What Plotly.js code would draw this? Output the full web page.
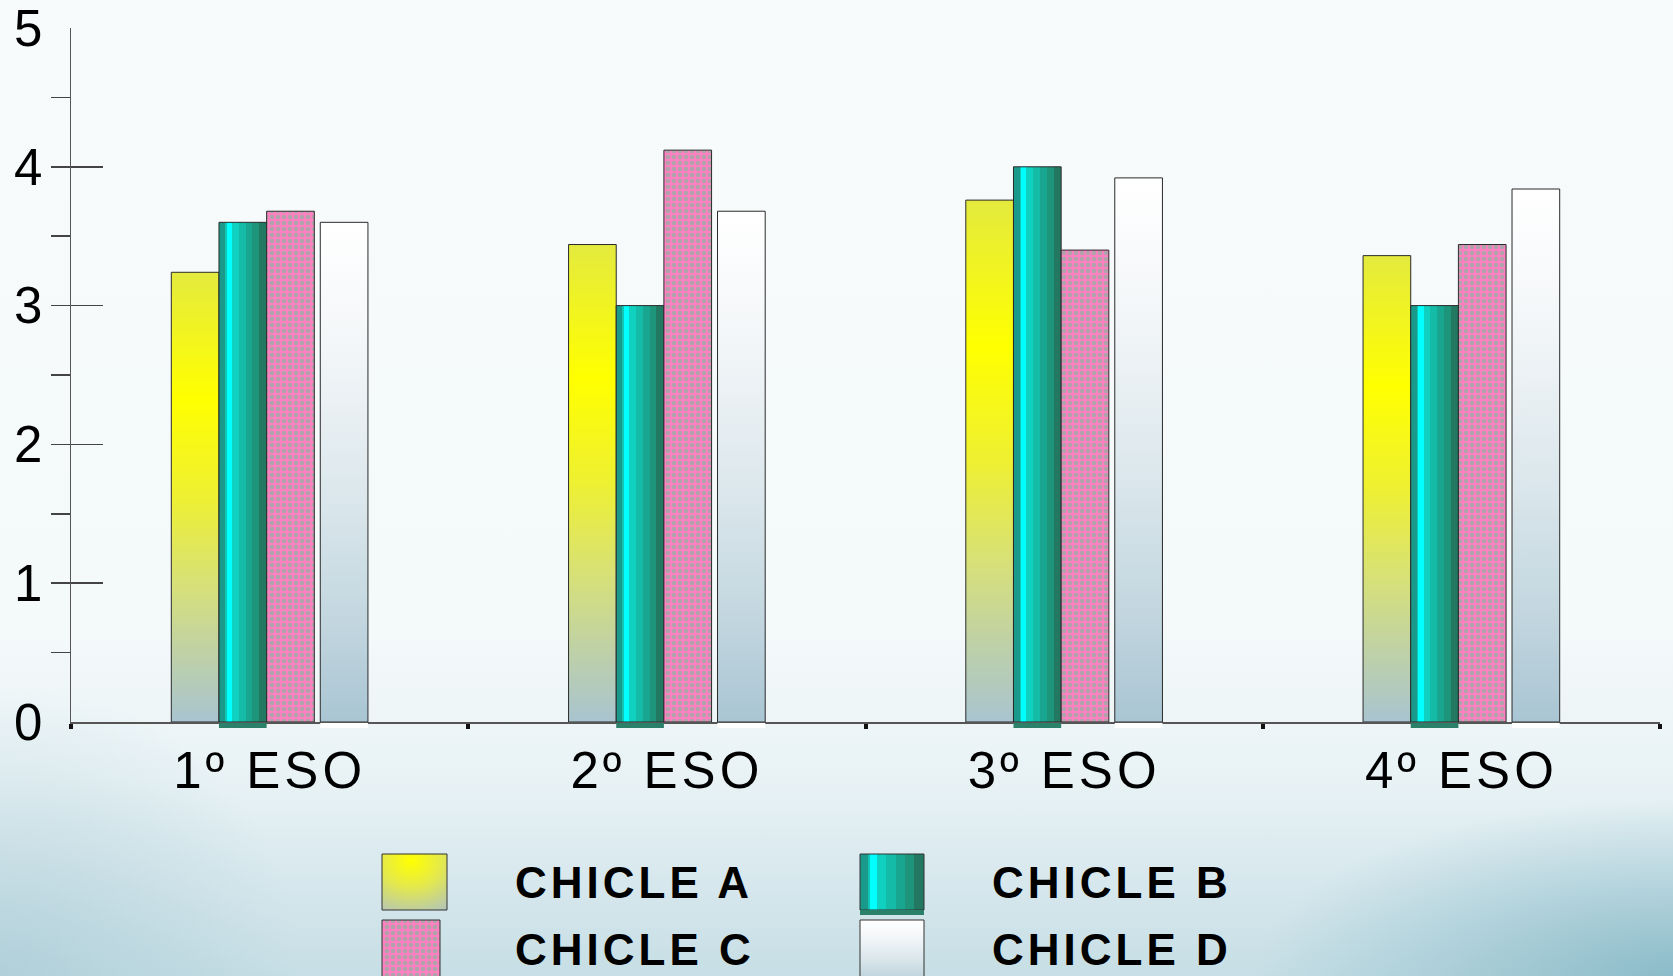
<!DOCTYPE html>
<html>
<head>
<meta charset="utf-8">
<script src="https://cdn.plot.ly/plotly-3.0.1.min.js"></script>
<style>
  html, body { margin: 0; padding: 0; width: 1673px; height: 976px; overflow: hidden; }
  body {
    background:
      radial-gradient(ellipse 25% 18% at 100% 100%, rgba(100,165,182,0.6), rgba(100,165,182,0) 100%),
      radial-gradient(ellipse 18% 30% at 0% 100%, rgba(150,190,203,0.45), rgba(150,190,203,0) 100%),
      linear-gradient(to bottom, #f8fbfc 0%, #f4f9fa 65%, #e8f2f5 80%, #d4e6ec 92%, #c6dee5 100%);
  }
  #chart { width: 1673px; height: 976px; }
</style>
</head>
<body>
<div id="chart"></div>
<script>
// Average rating of each chewing gum, by school year
const categories = ['1º ESO', '2º ESO', '3º ESO', '4º ESO'];
const seriesNames = ['CHICLE A', 'CHICLE B', 'CHICLE C', 'CHICLE D'];
const chicleA = [3.24, 3.44, 3.76, 3.36];
const chicleB = [3.60, 3.00, 4.00, 3.00];
const chicleC = [3.68, 4.12, 3.40, 3.44];
const chicleD = [3.60, 3.68, 3.92, 3.84];
const yTicks = [0, 1, 2, 3, 4, 5];

// bar geometry (in category units)
const BAR_W = 0.12;
const OFFSETS = [-0.2475, -0.1275, -0.0075, 0.1275];
const FONT = 'Liberation Sans, Arial, sans-serif';

// plot area in pixels, used for placing the hand-built legend
const PLOT = { l: 71, r: 1660, t: 28, b: 722 };
const W = 1673, H = 976;
const px = x => (x - PLOT.l) / (PLOT.r - PLOT.l);
const py = y => (PLOT.b - y) / (PLOT.b - PLOT.t);

const LEGEND_SPACING = 4;   // letter spacing of legend labels, px
const LIP = 5;              // depth of the base lip under B and D bars, px

const outline = { color: '#2a2a2a', width: 1 };

function barTrace(name, values, idx, marker) {
  return {
    type: 'bar', name: name, x: categories, y: values,
    width: BAR_W, offset: OFFSETS[idx],
    marker: Object.assign({ line: outline }, marker),
    showlegend: false, hoverinfo: 'x+y+name'
  };
}

const traces = [
  barTrace(seriesNames[0], chicleA, 0, { color: '#f2f020' }),
  barTrace(seriesNames[1], chicleB, 1, { color: '#14b8a6' }),
  barTrace(seriesNames[2], chicleC, 2, {
    color: '#ff80c0',
    pattern: { shape: '.', bgcolor: '#ff80c0', fgcolor: '#b0a2aa', size: 6, solidity: 0.45 }
  }),
  barTrace(seriesNames[3], chicleD, 3, { color: '#e8f0f3' })
];

// legend: swatches + labels
const swatches = [
  { x0: 382, x1: 447, y0: 854, y1: 910 },
  { x0: 860, x1: 924, y0: 854, y1: 910 },
  { x0: 382, x1: 440, y0: 920, y1: 990 },
  { x0: 860, x1: 924, y0: 920, y1: 990 }
];
const labelPos = [
  { x: 513, y: 882 }, { x: 990, y: 882 },
  { x: 513, y: 949 }, { x: 990, y: 949 }
];
const swatchFill = ['#f2f020', '#14b8a6', '#ff80c0', '#e8f0f3'];

const shapes = swatches.map((s, i) => ({
  type: 'rect', xref: 'paper', yref: 'paper', layer: 'above',
  x0: px(s.x0), x1: px(s.x1), y0: py(s.y1), y1: py(s.y0),
  fillcolor: swatchFill[i], line: { color: '#333', width: 1 }
}));
// dark lip under the B swatch
shapes.push({
  type: 'rect', xref: 'paper', yref: 'paper', layer: 'above',
  x0: px(860), x1: px(924), y0: py(915), y1: py(910),
  fillcolor: '#2a8068', line: { width: 0 }
});
// base lips just below the axis line, under every B and D bar
[[1, '#2a8068'], [3, '#ffffff']].forEach(([s, col]) => {
  categories.forEach((c, i) => {
    shapes.push({
      type: 'rect', xref: 'x', yref: 'paper', layer: 'above',
      x0: i + OFFSETS[s], x1: i + OFFSETS[s] + BAR_W,
      y0: py(PLOT.b + 1 + LIP), y1: py(PLOT.b + 1),
      fillcolor: col, line: { width: 0 }
    });
  });
});

// labels are centred in their box before letter spacing is applied,
// so shift them by half of the added width
const annotations = seriesNames.map((n, i) => ({
  text: n, xref: 'paper', yref: 'paper',
  x: px(labelPos[i].x + n.length * LEGEND_SPACING / 2), y: py(labelPos[i].y),
  xanchor: 'left', yanchor: 'middle', showarrow: false,
  font: { family: FONT, size: 44, color: '#000', weight: 'bold' }
}));

const layout = {
  width: W, height: H, autosize: false,
  margin: { l: PLOT.l, r: W - PLOT.r, t: PLOT.t, b: H - PLOT.b, pad: 0 },
  paper_bgcolor: 'rgba(0,0,0,0)', plot_bgcolor: 'rgba(0,0,0,0)',
  barmode: 'overlay', showlegend: false,
  font: { family: FONT, color: '#000' },
  xaxis: {
    type: 'category', range: [-0.5, 3.5],
    showline: true, linecolor: '#555', linewidth: 2,
    ticks: 'outside', tickson: 'boundaries', ticklen: 5, tickwidth: 4, tickcolor: '#111',
    tickfont: { family: FONT, size: 51, color: '#000' },
    ticklabelstandoff: 3, ticklabeloverflow: 'allow',
    showgrid: false, zeroline: false, fixedrange: true
  },
  yaxis: {
    range: [0, 5], tickmode: 'array', tickvals: yTicks, ticktext: yTicks.map(String),
    showline: true, linecolor: '#555', linewidth: 1.5,
    ticks: 'inside', ticklen: 32, tickwidth: 1.5, tickcolor: '#444',
    minor: { dtick: 0.5, ticks: 'outside', ticklen: 19, tickwidth: 1.5, tickcolor: '#444', showgrid: false },
    tickfont: { family: FONT, size: 51, color: '#000' },
    ticklabelstandoff: 17, ticklabeloverflow: 'allow',
    showgrid: false, zeroline: false, fixedrange: true
  },
  shapes: shapes,
  annotations: annotations
};

// gradient fills that plain colors cannot express
const SVGNS = 'http://www.w3.org/2000/svg';
function addGradient(defs, id, attrs, stops, radial) {
  if (defs.querySelector('#' + id)) return;
  const g = document.createElementNS(SVGNS, radial ? 'radialGradient' : 'linearGradient');
  g.setAttribute('id', id);
  Object.keys(attrs).forEach(k => g.setAttribute(k, attrs[k]));
  stops.forEach(([off, col]) => {
    const s = document.createElementNS(SVGNS, 'stop');
    s.setAttribute('offset', off);
    s.setAttribute('stop-color', col);
    g.appendChild(s);
  });
  defs.appendChild(g);
}

function decorate(gd) {
  const svg = gd.querySelector('.main-svg');
  let defs = svg.querySelector('defs');
  if (!defs) { defs = document.createElementNS(SVGNS, 'defs'); svg.insertBefore(defs, svg.firstChild); }
  const V = { x1: 0, y1: 0, x2: 0, y2: 1 };
  const Hz = { x1: 0, y1: 0, x2: 1, y2: 0 };
  addGradient(defs, 'gradA', V, [
    [0, '#e4ea3e'], [0.28, '#ffff00'], [0.5, '#eef032'], [0.7, '#d6e07a'],
    [0.86, '#bdd0aa'], [1, '#a8c4d0']
  ]);
  addGradient(defs, 'gradAswatch', { cx: 0.45, cy: 0.12, r: 1.0 }, [
    [0, '#ffff00'], [0.45, '#e6ea48'], [1, '#b4c6b6']
  ], true);
  addGradient(defs, 'gradB', Hz, [
    [0, '#1a9a8a'], [0.13, '#1a9a8a'], [0.13, '#12c4b4'], [0.16, '#12c4b4'],
    [0.16, '#00ffff'], [0.27, '#00ffff'], [0.27, '#10d0c0'], [0.41, '#10d0c0'],
    [0.41, '#14bca8'], [0.56, '#14bca8'], [0.56, '#18a690'], [0.7, '#18a690'],
    [0.7, '#1e947a'], [0.84, '#1e947a'], [0.84, '#237862'], [1, '#237862']
  ]);
  addGradient(defs, 'gradD', V, [
    [0, '#ffffff'], [0.25, '#f3f6f8'], [0.55, '#dbe7ec'], [0.8, '#c2d6df'], [1, '#a9c5d3']
  ]);

  const layers = gd.querySelectorAll('.barlayer .trace');
  const fills = { 0: 'url(#gradA)', 1: 'url(#gradB)', 3: 'url(#gradD)' };
  Object.keys(fills).forEach(i => {
    const t = layers[i];
    if (t) t.querySelectorAll('path').forEach(p => { p.style.fill = fills[i]; p.style.fillOpacity = 1; });
  });
  let patternFill = null;
  if (layers[2]) {
    const p = layers[2].querySelector('path');
    if (p) patternFill = p.style.fill;
  }
  const swFills = ['url(#gradAswatch)', 'url(#gradB)', patternFill, 'url(#gradD)'];
  gd.querySelectorAll('.shapelayer path').forEach(p => {
    const i = +p.getAttribute('data-index');
    if (i < 4 && swFills[i]) { p.style.fill = swFills[i]; p.style.fillOpacity = 1; }
  });
  gd.querySelectorAll('.xtick text').forEach(t => { t.style.letterSpacing = '4px'; });
  gd.querySelectorAll('.annotation-text').forEach(t => { t.style.letterSpacing = LEGEND_SPACING + 'px'; });
}

const gd = document.getElementById('chart');
Plotly.newPlot(gd, traces, layout, { displayModeBar: false, staticPlot: true }).then(() => {
  decorate(gd);
  gd.on && gd.on('plotly_afterplot', () => decorate(gd));
});
</script>
</body>
</html>
